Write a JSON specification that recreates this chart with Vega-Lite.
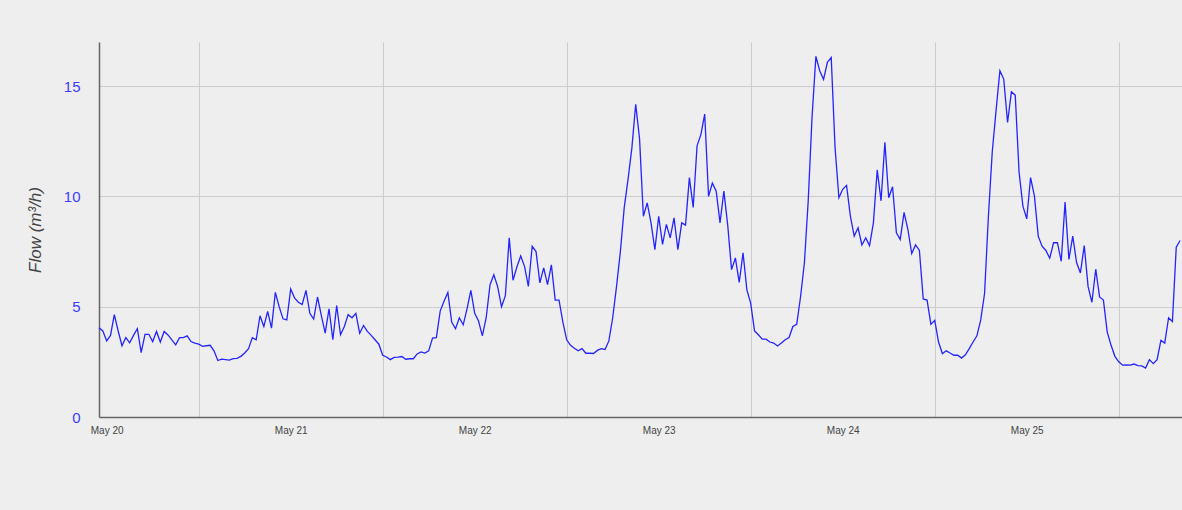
{
"$schema": "https://vega.github.io/schema/vega-lite/v6.json",
"width": 1083, "height": 375,
"autosize": {"type": "none"},
"padding": {"left": 99, "top": 42, "right": 0, "bottom": 93},
"background": "#eeeeee",
"config": {"view": {"stroke": null}, "font": "Liberation Sans"},
"data": {"values": [
{"t":"2024-05-19T23:00","v":4.05},{"t":"2024-05-19T23:30","v":3.9},
{"t":"2024-05-20T00:00","v":3.45},{"t":"2024-05-20T00:30","v":3.7},{"t":"2024-05-20T01:00","v":4.64},{"t":"2024-05-20T01:30","v":3.9},
{"t":"2024-05-20T02:00","v":3.23},{"t":"2024-05-20T02:30","v":3.6},{"t":"2024-05-20T03:00","v":3.36},{"t":"2024-05-20T03:30","v":3.7},
{"t":"2024-05-20T04:00","v":4.0},{"t":"2024-05-20T04:30","v":2.92},{"t":"2024-05-20T05:00","v":3.75},{"t":"2024-05-20T05:30","v":3.75},
{"t":"2024-05-20T06:00","v":3.42},{"t":"2024-05-20T06:30","v":3.88},{"t":"2024-05-20T07:00","v":3.4},{"t":"2024-05-20T07:30","v":3.88},
{"t":"2024-05-20T08:00","v":3.72},{"t":"2024-05-20T08:30","v":3.5},{"t":"2024-05-20T09:00","v":3.27},{"t":"2024-05-20T09:30","v":3.6},
{"t":"2024-05-20T10:00","v":3.6},{"t":"2024-05-20T10:30","v":3.68},{"t":"2024-05-20T11:00","v":3.42},{"t":"2024-05-20T11:30","v":3.35},
{"t":"2024-05-20T12:00","v":3.3},{"t":"2024-05-20T12:30","v":3.2},{"t":"2024-05-20T13:00","v":3.23},{"t":"2024-05-20T13:30","v":3.25},
{"t":"2024-05-20T14:00","v":3.0},{"t":"2024-05-20T14:30","v":2.56},{"t":"2024-05-20T15:00","v":2.62},{"t":"2024-05-20T15:30","v":2.6},
{"t":"2024-05-20T16:00","v":2.58},{"t":"2024-05-20T16:30","v":2.65},{"t":"2024-05-20T17:00","v":2.66},{"t":"2024-05-20T17:30","v":2.75},
{"t":"2024-05-20T18:00","v":2.9},{"t":"2024-05-20T18:30","v":3.1},{"t":"2024-05-20T19:00","v":3.6},{"t":"2024-05-20T19:30","v":3.5},
{"t":"2024-05-20T20:00","v":4.59},{"t":"2024-05-20T20:30","v":4.1},{"t":"2024-05-20T21:00","v":4.79},{"t":"2024-05-20T21:30","v":4.03},
{"t":"2024-05-20T22:00","v":5.65},{"t":"2024-05-20T22:30","v":5.0},{"t":"2024-05-20T23:00","v":4.45},{"t":"2024-05-20T23:30","v":4.4},
{"t":"2024-05-21T00:00","v":5.8},{"t":"2024-05-21T00:30","v":5.4},{"t":"2024-05-21T01:00","v":5.2},{"t":"2024-05-21T01:30","v":5.1},
{"t":"2024-05-21T02:00","v":5.74},{"t":"2024-05-21T02:30","v":4.7},{"t":"2024-05-21T03:00","v":4.44},{"t":"2024-05-21T03:30","v":5.44},
{"t":"2024-05-21T04:00","v":4.6},{"t":"2024-05-21T04:30","v":3.8},{"t":"2024-05-21T05:00","v":4.9},{"t":"2024-05-21T05:30","v":3.5},
{"t":"2024-05-21T06:00","v":5.05},{"t":"2024-05-21T06:30","v":3.73},{"t":"2024-05-21T07:00","v":4.1},{"t":"2024-05-21T07:30","v":4.64},
{"t":"2024-05-21T08:00","v":4.5},{"t":"2024-05-21T08:30","v":4.7},{"t":"2024-05-21T09:00","v":3.8},{"t":"2024-05-21T09:30","v":4.15},
{"t":"2024-05-21T10:00","v":3.88},{"t":"2024-05-21T10:30","v":3.7},{"t":"2024-05-21T11:00","v":3.5},{"t":"2024-05-21T11:30","v":3.3},
{"t":"2024-05-21T12:00","v":2.8},{"t":"2024-05-21T12:30","v":2.72},{"t":"2024-05-21T13:00","v":2.6},{"t":"2024-05-21T13:30","v":2.7},
{"t":"2024-05-21T14:00","v":2.71},{"t":"2024-05-21T14:30","v":2.74},{"t":"2024-05-21T15:00","v":2.62},{"t":"2024-05-21T15:30","v":2.64},
{"t":"2024-05-21T16:00","v":2.64},{"t":"2024-05-21T16:30","v":2.86},{"t":"2024-05-21T17:00","v":2.95},{"t":"2024-05-21T17:30","v":2.9},
{"t":"2024-05-21T18:00","v":3.0},{"t":"2024-05-21T18:30","v":3.58},{"t":"2024-05-21T19:00","v":3.6},{"t":"2024-05-21T19:30","v":4.8},
{"t":"2024-05-21T20:00","v":5.25},{"t":"2024-05-21T20:30","v":5.65},{"t":"2024-05-21T21:00","v":4.3},{"t":"2024-05-21T21:30","v":4.0},
{"t":"2024-05-21T22:00","v":4.5},{"t":"2024-05-21T22:30","v":4.18},{"t":"2024-05-21T23:00","v":4.9},{"t":"2024-05-21T23:30","v":5.74},
{"t":"2024-05-22T00:00","v":4.7},{"t":"2024-05-22T00:30","v":4.35},{"t":"2024-05-22T01:00","v":3.68},{"t":"2024-05-22T01:30","v":4.5},
{"t":"2024-05-22T02:00","v":6.0},{"t":"2024-05-22T02:30","v":6.45},{"t":"2024-05-22T03:00","v":5.9},{"t":"2024-05-22T03:30","v":5.0},
{"t":"2024-05-22T04:00","v":5.5},{"t":"2024-05-22T04:30","v":8.12},{"t":"2024-05-22T05:00","v":6.2},{"t":"2024-05-22T05:30","v":6.8},
{"t":"2024-05-22T06:00","v":7.3},{"t":"2024-05-22T06:30","v":6.83},{"t":"2024-05-22T07:00","v":5.92},{"t":"2024-05-22T07:30","v":7.74},
{"t":"2024-05-22T08:00","v":7.5},{"t":"2024-05-22T08:30","v":6.08},{"t":"2024-05-22T09:00","v":6.76},{"t":"2024-05-22T09:30","v":6.0},
{"t":"2024-05-22T10:00","v":6.9},{"t":"2024-05-22T10:30","v":5.3},{"t":"2024-05-22T11:00","v":5.3},{"t":"2024-05-22T11:30","v":4.3},
{"t":"2024-05-22T12:00","v":3.5},{"t":"2024-05-22T12:30","v":3.25},{"t":"2024-05-22T13:00","v":3.12},{"t":"2024-05-22T13:30","v":3.0},
{"t":"2024-05-22T14:00","v":3.1},{"t":"2024-05-22T14:30","v":2.89},{"t":"2024-05-22T15:00","v":2.89},{"t":"2024-05-22T15:30","v":2.88},
{"t":"2024-05-22T16:00","v":3.02},{"t":"2024-05-22T16:30","v":3.1},{"t":"2024-05-22T17:00","v":3.06},{"t":"2024-05-22T17:30","v":3.45},
{"t":"2024-05-22T18:00","v":4.5},{"t":"2024-05-22T18:30","v":5.92},{"t":"2024-05-22T19:00","v":7.5},{"t":"2024-05-22T19:30","v":9.48},
{"t":"2024-05-22T20:00","v":10.77},{"t":"2024-05-22T20:30","v":12.2},{"t":"2024-05-22T21:00","v":14.18},{"t":"2024-05-22T21:30","v":12.62},
{"t":"2024-05-22T22:00","v":9.1},{"t":"2024-05-22T22:30","v":9.71},{"t":"2024-05-22T23:00","v":8.8},{"t":"2024-05-22T23:30","v":7.59},
{"t":"2024-05-23T00:00","v":9.1},{"t":"2024-05-23T00:30","v":7.82},{"t":"2024-05-23T01:00","v":8.73},{"t":"2024-05-23T01:30","v":8.12},
{"t":"2024-05-23T02:00","v":9.03},{"t":"2024-05-23T02:30","v":7.59},{"t":"2024-05-23T03:00","v":8.8},{"t":"2024-05-23T03:30","v":8.7},
{"t":"2024-05-23T04:00","v":10.85},{"t":"2024-05-23T04:30","v":9.5},{"t":"2024-05-23T05:00","v":12.29},{"t":"2024-05-23T05:30","v":12.8},
{"t":"2024-05-23T06:00","v":13.73},{"t":"2024-05-23T06:30","v":10.0},{"t":"2024-05-23T07:00","v":10.6},{"t":"2024-05-23T07:30","v":10.24},
{"t":"2024-05-23T08:00","v":8.8},{"t":"2024-05-23T08:30","v":10.24},{"t":"2024-05-23T09:00","v":8.7},{"t":"2024-05-23T09:30","v":6.68},
{"t":"2024-05-23T10:00","v":7.21},{"t":"2024-05-23T10:30","v":6.1},{"t":"2024-05-23T11:00","v":7.44},{"t":"2024-05-23T11:30","v":5.76},
{"t":"2024-05-23T12:00","v":5.15},{"t":"2024-05-23T12:30","v":3.9},{"t":"2024-05-23T13:00","v":3.73},{"t":"2024-05-23T13:30","v":3.53},
{"t":"2024-05-23T14:00","v":3.53},{"t":"2024-05-23T14:30","v":3.4},{"t":"2024-05-23T15:00","v":3.35},{"t":"2024-05-23T15:30","v":3.22},
{"t":"2024-05-23T16:00","v":3.35},{"t":"2024-05-23T16:30","v":3.5},{"t":"2024-05-23T17:00","v":3.6},{"t":"2024-05-23T17:30","v":4.1},
{"t":"2024-05-23T18:00","v":4.2},{"t":"2024-05-23T18:30","v":5.45},{"t":"2024-05-23T19:00","v":6.98},{"t":"2024-05-23T19:30","v":9.8},
{"t":"2024-05-23T20:00","v":13.6},{"t":"2024-05-23T20:30","v":16.35},{"t":"2024-05-23T21:00","v":15.7},{"t":"2024-05-23T21:30","v":15.3},
{"t":"2024-05-23T22:00","v":16.08},{"t":"2024-05-23T22:30","v":16.3},{"t":"2024-05-23T23:00","v":12.21},{"t":"2024-05-23T23:30","v":9.94},
{"t":"2024-05-24T00:00","v":10.32},{"t":"2024-05-24T00:30","v":10.5},{"t":"2024-05-24T01:00","v":9.1},{"t":"2024-05-24T01:30","v":8.2},
{"t":"2024-05-24T02:00","v":8.58},{"t":"2024-05-24T02:30","v":7.8},{"t":"2024-05-24T03:00","v":8.12},{"t":"2024-05-24T03:30","v":7.77},
{"t":"2024-05-24T04:00","v":8.8},{"t":"2024-05-24T04:30","v":11.2},{"t":"2024-05-24T05:00","v":9.8},{"t":"2024-05-24T05:30","v":12.45},
{"t":"2024-05-24T06:00","v":9.94},{"t":"2024-05-24T06:30","v":10.44},{"t":"2024-05-24T07:00","v":8.35},{"t":"2024-05-24T07:30","v":8.05},
{"t":"2024-05-24T08:00","v":9.28},{"t":"2024-05-24T08:30","v":8.5},{"t":"2024-05-24T09:00","v":7.41},{"t":"2024-05-24T09:30","v":7.8},
{"t":"2024-05-24T10:00","v":7.55},{"t":"2024-05-24T10:30","v":5.35},{"t":"2024-05-24T11:00","v":5.3},{"t":"2024-05-24T11:30","v":4.2},
{"t":"2024-05-24T12:00","v":4.38},{"t":"2024-05-24T12:30","v":3.4},{"t":"2024-05-24T13:00","v":2.87},{"t":"2024-05-24T13:30","v":3.0},
{"t":"2024-05-24T14:00","v":2.9},{"t":"2024-05-24T14:30","v":2.8},{"t":"2024-05-24T15:00","v":2.8},{"t":"2024-05-24T15:30","v":2.67},
{"t":"2024-05-24T16:00","v":2.82},{"t":"2024-05-24T16:30","v":3.1},{"t":"2024-05-24T17:00","v":3.4},{"t":"2024-05-24T17:30","v":3.68},
{"t":"2024-05-24T18:00","v":4.4},{"t":"2024-05-24T18:30","v":5.6},{"t":"2024-05-24T19:00","v":9.1},{"t":"2024-05-24T19:30","v":12.0},
{"t":"2024-05-24T20:00","v":13.9},{"t":"2024-05-24T20:30","v":15.7},{"t":"2024-05-24T21:00","v":15.32},{"t":"2024-05-24T21:30","v":13.35},
{"t":"2024-05-24T22:00","v":14.74},{"t":"2024-05-24T22:30","v":14.59},{"t":"2024-05-24T23:00","v":11.1},{"t":"2024-05-24T23:30","v":9.56},
{"t":"2024-05-25T00:00","v":8.98},{"t":"2024-05-25T00:30","v":10.85},{"t":"2024-05-25T01:00","v":10.02},{"t":"2024-05-25T01:30","v":8.2},
{"t":"2024-05-25T02:00","v":7.74},{"t":"2024-05-25T02:30","v":7.55},{"t":"2024-05-25T03:00","v":7.2},{"t":"2024-05-25T03:30","v":7.9},
{"t":"2024-05-25T04:00","v":7.9},{"t":"2024-05-25T04:30","v":7.06},{"t":"2024-05-25T05:00","v":9.74},{"t":"2024-05-25T05:30","v":7.14},
{"t":"2024-05-25T06:00","v":8.2},{"t":"2024-05-25T06:30","v":7.0},{"t":"2024-05-25T07:00","v":6.53},{"t":"2024-05-25T07:30","v":7.77},
{"t":"2024-05-25T08:00","v":5.92},{"t":"2024-05-25T08:30","v":5.2},{"t":"2024-05-25T09:00","v":6.7},{"t":"2024-05-25T09:30","v":5.44},
{"t":"2024-05-25T10:00","v":5.3},{"t":"2024-05-25T10:30","v":3.85},{"t":"2024-05-25T11:00","v":3.25},{"t":"2024-05-25T11:30","v":2.75},
{"t":"2024-05-25T12:00","v":2.5},{"t":"2024-05-25T12:30","v":2.35},{"t":"2024-05-25T13:00","v":2.36},{"t":"2024-05-25T13:30","v":2.35},
{"t":"2024-05-25T14:00","v":2.4},{"t":"2024-05-25T14:30","v":2.33},{"t":"2024-05-25T15:00","v":2.32},{"t":"2024-05-25T15:30","v":2.22},
{"t":"2024-05-25T16:00","v":2.6},{"t":"2024-05-25T16:30","v":2.42},{"t":"2024-05-25T17:00","v":2.6},{"t":"2024-05-25T17:30","v":3.47},
{"t":"2024-05-25T18:00","v":3.35},{"t":"2024-05-25T18:30","v":4.5},{"t":"2024-05-25T19:00","v":4.33},{"t":"2024-05-25T19:30","v":7.7},
{"t":"2024-05-25T20:00","v":8.0}
]},
"mark": {"type": "line", "color": "#2424ff", "strokeWidth": 1.3},
"encoding": {
  "x": {"field": "t", "type": "temporal", "title": null,
    "scale": {"domain": [{"year": 2024, "month": 5, "date": 19, "hours": 23}, {"year": 2024, "month": 5, "date": 25, "hours": 20, "minutes": 15}]},
    "axis": {"values": [
      {"year": 2024, "month": 5, "date": 20, "hours": 12},
      {"year": 2024, "month": 5, "date": 21, "hours": 12},
      {"year": 2024, "month": 5, "date": 22, "hours": 12},
      {"year": 2024, "month": 5, "date": 23, "hours": 12},
      {"year": 2024, "month": 5, "date": 24, "hours": 12},
      {"year": 2024, "month": 5, "date": 25, "hours": 12}],
      "format": "%b %-d", "labelOffset": -92, "labelFlush": false, "labelOverlap": false, "labelBound": false,
      "ticks": false, "grid": true, "gridColor": "#cccccc", "gridWidth": 1,
      "domainColor": "#666666", "domainWidth": 1.5,
      "labelFontSize": 10, "labelColor": "#444444", "labelPadding": 8, "labelFont": "Liberation Sans"}},
  "y": {"field": "v", "type": "quantitative", "title": "Flow (m³/h)",
    "scale": {"domain": [0, 17], "nice": false},
    "axis": {"values": [0, 5, 10, 15], "ticks": false, "grid": true, "gridColor": "#cccccc", "gridWidth": 1,
      "domainColor": "#666666", "domainWidth": 1.5,
      "labelFontSize": 15, "labelColor": "#3c3cff", "labelPadding": 19, "labelFont": "Liberation Sans",
      "titleFont": "Liberation Sans", "titleFontSize": 17, "titleFontStyle": "italic", "titleFontWeight": "normal",
      "titleColor": "#444444", "titleX": -64, "titleY": 187.5, "titleAngle": -90, "titleBaseline": "middle", "titleAlign": "center"}}
}
}
